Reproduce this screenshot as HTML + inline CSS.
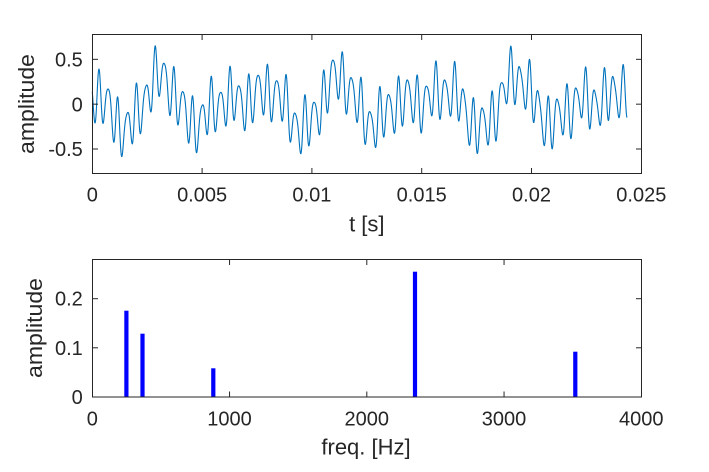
<!DOCTYPE html>
<html>
<head>
<meta charset="utf-8">
<style>
html,body{margin:0;padding:0;background:#fff;}
svg{display:block;}
text{font-family:"Liberation Sans",Arial,sans-serif;fill:#262626;}
</style>
</head>
<body>
<svg id="s" width="709" height="472" viewBox="0 0 709 472" xmlns="http://www.w3.org/2000/svg">
<rect x="0" y="0" width="709" height="472" fill="#fff"/>

<!-- ===== TOP AXES ===== -->
<path id="wave" d="" fill="none" stroke="#0072BD" stroke-width="1.1" stroke-linejoin="round"/>
<rect x="92.5" y="34.5" width="549" height="139" fill="none" stroke="#262626" stroke-width="1"/>
<g stroke="#262626" stroke-width="1">
  <!-- x ticks bottom/top -->
  <line x1="202.1" y1="173.5" x2="202.1" y2="168"/><line x1="202.1" y1="34.5" x2="202.1" y2="40"/>
  <line x1="311.9" y1="173.5" x2="311.9" y2="168"/><line x1="311.9" y1="34.5" x2="311.9" y2="40"/>
  <line x1="421.7" y1="173.5" x2="421.7" y2="168"/><line x1="421.7" y1="34.5" x2="421.7" y2="40"/>
  <line x1="531.5" y1="173.5" x2="531.5" y2="168"/><line x1="531.5" y1="34.5" x2="531.5" y2="40"/>
  <!-- y ticks left/right -->
  <line x1="92.5" y1="59.33" x2="98" y2="59.33"/><line x1="641.5" y1="59.33" x2="636" y2="59.33"/>
  <line x1="92.5" y1="104.17" x2="98" y2="104.17"/><line x1="641.5" y1="104.17" x2="636" y2="104.17"/>
  <line x1="92.5" y1="149" x2="98" y2="149"/><line x1="641.5" y1="149" x2="636" y2="149"/>
</g>
<g font-size="20" text-anchor="middle">
  <text x="92.3" y="201.5">0</text>
  <text x="202.1" y="201.5">0.005</text>
  <text x="311.9" y="201.5">0.01</text>
  <text x="421.7" y="201.5">0.015</text>
  <text x="531.5" y="201.5">0.02</text>
  <text x="641.3" y="201.5">0.025</text>
</g>
<g font-size="20" text-anchor="end">
  <text x="82.8" y="66.5">0.5</text>
  <text x="82.8" y="111.3">0</text>
  <text x="82.8" y="156.2">-0.5</text>
</g>
<text x="366.8" y="231.5" font-size="22" text-anchor="middle">t [s]</text>
<text transform="translate(34,104) rotate(-90)" font-size="22" text-anchor="middle" textLength="100" lengthAdjust="spacingAndGlyphs">amplitude</text>

<!-- ===== BOTTOM AXES ===== -->
<g fill="#0000FF">
  <rect x="124.3" y="310.7" width="4.2" height="86.3"/>
  <rect x="140.4" y="333.7" width="4.2" height="63.3"/>
  <rect x="211.2" y="368.3" width="4.2" height="28.7"/>
  <rect x="412.9" y="271.7" width="4.2" height="125.3"/>
  <rect x="573.2" y="351.7" width="4.2" height="45.3"/>
</g>
<rect x="92.5" y="259.5" width="549" height="137.5" fill="none" stroke="#262626" stroke-width="1"/>
<g stroke="#262626" stroke-width="1">
  <line x1="229.55" y1="397" x2="229.55" y2="391.5"/><line x1="229.55" y1="259.5" x2="229.55" y2="265"/>
  <line x1="366.8" y1="397" x2="366.8" y2="391.5"/><line x1="366.8" y1="259.5" x2="366.8" y2="265"/>
  <line x1="504.05" y1="397" x2="504.05" y2="391.5"/><line x1="504.05" y1="259.5" x2="504.05" y2="265"/>
  <line x1="92.5" y1="347.8" x2="98" y2="347.8"/><line x1="641.5" y1="347.8" x2="636" y2="347.8"/>
  <line x1="92.5" y1="298.7" x2="98" y2="298.7"/><line x1="641.5" y1="298.7" x2="636" y2="298.7"/>
</g>
<g font-size="20" text-anchor="middle">
  <text x="92.3" y="425.5">0</text>
  <text x="229.55" y="425.5">1000</text>
  <text x="366.8" y="425.5">2000</text>
  <text x="504.05" y="425.5">3000</text>
  <text x="641.3" y="425.5">4000</text>
</g>
<g font-size="20" text-anchor="end">
  <text x="82.8" y="404">0</text>
  <text x="82.8" y="354.8">0.1</text>
  <text x="82.8" y="305.7">0.2</text>
</g>
<text x="366" y="454.3" font-size="22" text-anchor="middle">freq. [Hz]</text>
<text transform="translate(42,328) rotate(-90)" font-size="22" text-anchor="middle" textLength="100" lengthAdjust="spacingAndGlyphs">amplitude</text>
</svg>

<script>
(function(){
var groups=[
[92,[[3,180],[10,245],[21,85],[34,252],[48,148],[65,305],[77,172],[89,352],[106,222],[121,313],[133,128],[146,285],[164,138],[177,218],[189,17],[202,172],[215,70],[233,225],[245,78],[258,255],[271,153],[289,305],[301,170],[314,340],[332,197],[345,285],[357,108],[370,278],[386,158],[401,255]]],
[228,[[6,80],[18,245],[33,140],[49,272],[62,102],[74,250],[90,105],[105,222],[118,70],[130,245],[146,122],[161,242],[175,102],[187,308],[201,218],[218,342],[231,165],[243,285],[259,188],[274,287],[288,92],[300,198],[315,62],[330,178],[343,33],[356,222],[370,112],[387,245],[400,140]]],
[364,[[4,312],[17,212],[35,323],[47,142],[60,295],[73,165],[91,280],[104,110],[117,262],[131,122],[148,248],[160,103],[173,280],[187,140],[204,225],[216,62],[229,240],[243,120],[260,227],[272,65],[285,225],[297,145],[317,313],[329,173],[341,342],[355,205],[373,315],[385,155],[397,280]]],
[500,[[5,133],[19,192],[33,20],[46,195],[58,78],[77,207],[89,57],[102,248],[113,148],[133,317],[146,170],[157,330],[171,180],[189,288],[202,133],[214,300],[228,145],[245,233],[258,78],[270,267],[284,147],[301,255],[314,82],[326,245],[340,110],[357,235],[370,76],[381,225]]]
];
var T=[],V=[];
groups.forEach(function(g){var x0=g[0];g[1].forEach(function(p){
  var x=x0+p[0]/3,y=40+p[1]/3;
  T.push((x-92.3)/549*0.025);V.push((104.17-y)/89.67);
});});
var F0=[246.94,369.99,880,2349.32,3520];
function basis(F,t){var r=[1];for(var k=0;k<F.length;k++){var w=2*Math.PI*F[k]*t;r.push(Math.cos(w));r.push(Math.sin(w));}return r;}
function fit(F){
  var n=1+2*F.length,A=[],b=[],i,j,k;
  for(i=0;i<n;i++){A.push(new Array(n).fill(0));b.push(0);}
  for(var m=0;m<T.length;m++){var p=basis(F,T[m]);
    for(i=0;i<n;i++){b[i]+=p[i]*V[m];for(j=0;j<n;j++)A[i][j]+=p[i]*p[j];}}
  for(i=0;i<n;i++)A[i][i]+=1e-6;
  for(i=0;i<n;i++){var piv=i;for(k=i+1;k<n;k++)if(Math.abs(A[k][i])>Math.abs(A[piv][i]))piv=k;
    var tmp=A[i];A[i]=A[piv];A[piv]=tmp;var tb=b[i];b[i]=b[piv];b[piv]=tb;
    for(k=i+1;k<n;k++){var f=A[k][i]/A[i][i];for(j=i;j<n;j++)A[k][j]-=f*A[i][j];b[k]-=f*b[i];}}
  var c=new Array(n).fill(0);
  for(i=n-1;i>=0;i--){var s=b[i];for(j=i+1;j<n;j++)s-=A[i][j]*c[j];c[i]=s/A[i][i];}
  var sse=0;for(m=0;m<T.length;m++){var p2=basis(F,T[m]),v=0;for(i=0;i<n;i++)v+=p2[i]*c[i];sse+=(v-V[m])*(v-V[m]);}
  return {c:c,sse:sse};
}
var F=F0.slice(),best=fit(F);
for(var it=0;it<3;it++){
  for(var k=0;k<F.length;k++){
    for(var d=-8;d<=8;d+=0.5){var F2=F.slice();F2[k]=F0[k]+d;var r=fit(F2);if(r.sse<best.sse){best=r;F=F2;}}
  }
}
var c=best.c,N=2500,tEnd=0.02435,d="";
for(var q=0;q<=N;q++){var t=tEnd*q/N,p=basis(F,t),v=0;for(var i=0;i<p.length;i++)v+=p[i]*c[i];
  var x=92.3+t/0.025*549,y=104.17-v*89.67;
  d+=(q?"L":"M")+x.toFixed(2)+" "+y.toFixed(2);}
document.getElementById("wave").setAttribute("d",d);
})();
</script>
</body>
</html>
